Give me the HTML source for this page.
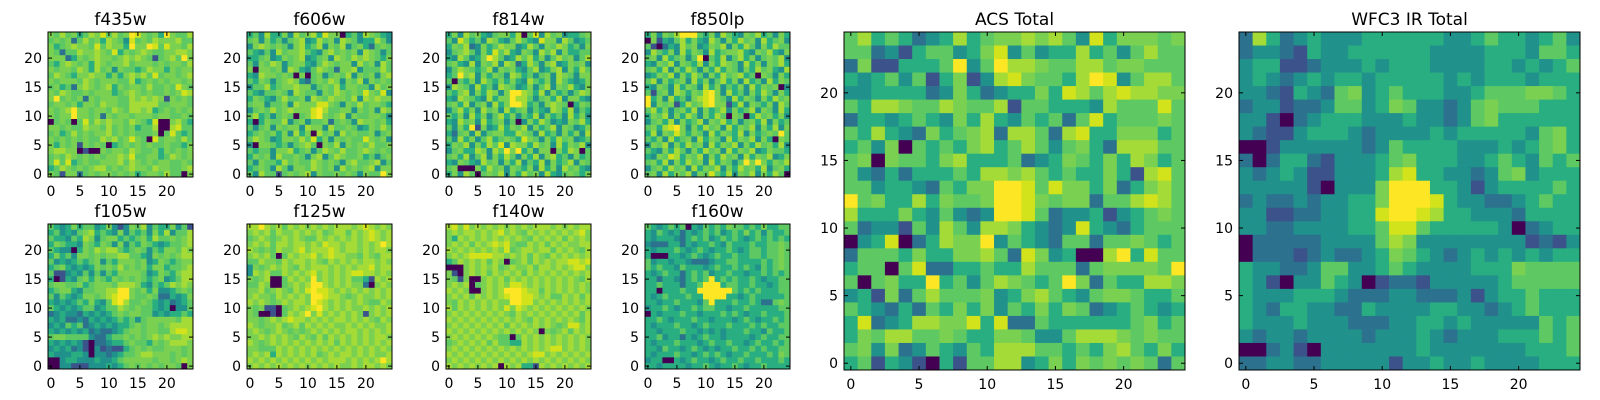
<!DOCTYPE html>
<html><head><meta charset="utf-8">
<style>
html,body{margin:0;padding:0;background:#fff;}
svg{display:block;font-family:"DejaVu Sans","Liberation Sans",sans-serif;}
</style></head>
<body>
<svg id="fig" width="1600" height="400" viewBox="0 0 1600 400" xmlns="http://www.w3.org/2000/svg"></svg>
<script>
// Viridis levels 0..9 (data values are level indices)
const palette = ["#440154","#3b528b","#2c728e","#21918c","#28ae80","#5ec962","#7ad151","#a5db36","#d2e21b","#fde725"];
const tickValues = [0,5,10,15,20];
const tickLabels = ["0","5","10","15","20"];
const panelTitles = ["f435w","f606w","f814w","f850lp","f105w","f125w","f140w","f160w","ACS Total","WFC3 IR Total"];
// rows listed from y=24 (top) down to y=0
const f435w = [
"6575645768575698656496557","5656257564765385657666755","6456766585766496698586657","6525576676584656765566776","6662465676656767651567596",
"5467656476566756665656657","6566576475636554576646566","5765466766464676758566567","6566657656665574565656656","5645267656746566575565865",
"6576556566645676565565687","6956562656665576767616565","5665646657665577777556665","6567966566576577674565656","6566966562656656665665565",
"0565058576766576548006754","6656557665756564557007855","5645756566756565556058545","6565656557675686508566575","6465616565045656565565546",
"6776601006566576556465656","5657656565667685566457656","5858456556667576565665565","4576565677565676657665567","6516625656656564566575506"];
const f606w = [
"4537446375674866045376543","5636453567347563765344753","3676565367457365735642565","5435375667543675656376535","4456346567345637657676546",
"5365763566435765663756375","6066563764357652667355575","4376656506056356573656367","5465356763256576365736565","3557456676635657466553756",
"5435565376553657656586583","4654357556376576657376766","5663556376668865365756654","3565756766689755663656376","5745356505689656736556653",
"4046557356355625653766564","5356365663766375565346575","4565646374607563756556356","5765346657584636565586563","3066545356750657365657556",
"5455366745635765755676565","4656375565367357655645356","5365547565576565367556735","4565375366576563756567366","5375515656736556565365596"];
const f814w = [
"4637564356647058375634456","5386453764357543866375345","4657236457663475365764536","3567536485743653757364455","4375346975347574635756357",
"5643736573762475367346563","3576545736564357346736475","4596736465376453563765366","5054637546464375463754346","3765374537653463573657436",
"5467364763699764736453576","4376543746697753564736643","5647356374699745367650465","3574637563745635437647354","5463746357463547364537463",
"4375637456350364753436574","5364916347465736457365346","4256373566447653745364637","5374635745654865364756345","4657364758376647563746573",
"3564476375969463660647605","5647357364753647367453645","4365437563647354736457365","5600064756365463746375643","4637505657364756374356546"];
const f850lp = [
"4636579995463754365745364","0614357464375364756374563","5102437563465736475364755","3754637465374566743657436","5637456359054735746356573",
"4365736547364765374636574","5647364753647465364756437","3465736475364756745065364","5736456374635746374537465","4365374653746354637465603",
"5156376465896374536475364","9463745367896537465364756","9365614756896614736546375","5746356473645736457365374","4657364753647506504756463",
"3564736457365746356473645","5647896364756374657364736","4736586465374654736456595","5463745637465374657364065","3657364756374657364756473",
"5436475364756374657346554","4365874657364756374657346","5647364756374653596964657","3564756374657364756473564","5637465736585473657364750"];
const f105w = [
"5434645534631365735446351","4534356745436354536473557","5443547635664545647556567","4654436546536354654345567","5433046576775456535466576",
"4645366565667755436565677","5343454563546665634654566","4564343465657565646645567","5113435353546666534654677","4014356465465656545634577",
"5665564566657776435457676","4566435566779965646334565","5354346656789965565224346","4343454643589755654342345","5434345534557656554340335",
"2343324343456566553434454","4342232434345453566666577","3435452343434456566567777","4343434232234566566557887","5665555322455656567676677",
"4343431022344565546567776","3434231031211456565566656","4333443033234556776665656","0034433343345666665665676","0033111333434565656566506"];
const f125w = [
"7797675767676767776787676","6767576676767567757678767","5676567676557676767678767","6767577677676877677676797","7656576678677787677676776",
"6767505767786787766576577","5576657677676576767677676","3656767657677767676778677","3767557676786767678877676","6567005767696767675541767",
"5576005676799767676620676","6675676576898876767676767","6766576767699877656766767","7676567677698767676765576","6561105676789767676676767",
"6500105767968676767616767","6656767877676767767676576","7656675675767676676767667","6765676565676767677676767","6676767657657576767676776",
"7656767676767675767676767","6655576767676767676767676","6767476767675676776767667","7676767676767677767676797","6767676767676767667677676"];
const f140w = [
"7868676767676767776767677","6767767678676576767676786","6476767676767657676757676","6767576787865576757676677","7676767676856776775767657",
"6767888877676757657676767","4576767576056757676778878","0006767675676675776767886","6106767576767576767676767","6516006767576767676767657",
"6767056767688767676767676","7676006767999877576767676","6767576767899887675576757","6576767676699886767676767","7576767676868767676767676",
"6767676767657676767676757","7676767676767657676767657","6767676767576767676568867","7676767676767676065675767","6767676765505767676767676",
"5676767575544767676767676","6767676767676767678867676","7676767676767678867676767","6767676767676767676767676","7676767670767441767676767"];
const f160w = [
"5434545043545465545464455","4354342434545345464535445","4344432454534545434545454","3222442434454354445445565","4344454345434454345545565",
"4000443454345445445545565","5344344322234455444454565","5454435444345445454354565","4345442454534454434454545","4424432454594545445434455",
"4454442445999455445443455","4404445449999995454544455","4345444544999944345444445","4434454443594445445422565","3445434454554434454444455",
"0434445443444545434454445","4454344454434443454344545","4344454434544454445454455","4434445443434344454435445","4453442434544344443454455",
"4344454443454454434544545","4435443454343445445454455","4344454434545434454445465","3440043454434544544544454","4434444344543445434454444"];
const acsTotal = [
"5745423474566767538466656","5523145534683534474535755","2611444593597765577566555","4345351461378655479835775","3344442364234464875787766",
"5477655765571554443755585","2443454364743545258455565","5474326456727752784466645","4536054546745753564277755","5606554674445234654647645",
"5324244454776754544641785","5534432546699858664624675","9564474655699865662557875","7444643532399852334134565","5233153753776432384324555",
"0348024766935432552556545","2555464466752863400794855","4550582244544755525666659","5056449453576545962544776","3416257555634675435665445",
"5432425464635464652345434","4823477668482254444445645","4657755654466533577765655","5636235435477755454675464","4514310415577346465656525"];
const wfc3Total = [
"2742343334444443345443453","2332143344444433334443554","3441123334344433334434345","3432343443444443434443444","3321432563454443345556654",
"2331223553465332356555444","3310234443334332356444444","3211344432333343444443564","0013333332354444333434564","2024421333456444334543545",
"3234311333478443323563444","3333310333699944313444454","2322323344699984332234544","3311223344899874433324444","3322333344588544444302344",
"0222223333576333333331213","0222123223465432343434344","4332235533454333344465555","4310335430122133333455555","4333444322233222313445444",
"4324433224333344332345444","4333433322233443433333545","3233233332333432333444545","0023103333333433333334445","2233223333313343343333444"];

const panels = [
 {x:48,y:32,w:145,h:145,data:f435w,t:0,fs:14},
 {x:247,y:32,w:145,h:145,data:f606w,t:1,fs:14},
 {x:446,y:32,w:145,h:145,data:f814w,t:2,fs:14},
 {x:645,y:32,w:145,h:145,data:f850lp,t:3,fs:14},
 {x:48,y:224,w:145,h:145,data:f105w,t:4,fs:14},
 {x:247,y:224,w:145,h:145,data:f125w,t:5,fs:14},
 {x:446,y:224,w:145,h:145,data:f140w,t:6,fs:14},
 {x:645,y:224,w:145,h:145,data:f160w,t:7,fs:14},
 {x:844,y:32,w:341,h:338,data:acsTotal,t:8,fs:14},
 {x:1239,y:32,w:341,h:338,data:wfc3Total,t:9,fs:14}
];
const NS="http://www.w3.org/2000/svg";
const svg=document.getElementById('fig');
function mk(tag,attrs,parent){const e=document.createElementNS(NS,tag);for(const k in attrs)e.setAttribute(k,attrs[k]);parent.appendChild(e);return e;}
panels.forEach((p,pi)=>{
  const n=p.data.length, m=p.data[0].length;
  const xs=v=>p.x+(v+0.5)/m*p.w;
  const ys=v=>p.y+(n-0.5-v)/n*p.h;
  const g=mk('g',{},svg);
  
  
  const cw=p.w/m, ch=p.h/n;
  for(let r=0;r<n;r++){
    const yv=n-1-r;
    for(let c=0;c<m;c++){
      const val=+p.data[r][c];
      const rc=mk('rect',{x:(xs(c)-cw/2).toFixed(2),y:(ys(yv)-ch/2).toFixed(2),width:(cw+0.4).toFixed(2),height:(ch+0.4).toFixed(2),fill:palette[val]},g);
      
      
    }
  }
  const fr=mk('rect',{x:p.x,y:p.y,width:p.w,height:p.h,fill:'none',stroke:'#000','stroke-width':1},g);
  
  
  tickValues.forEach((tv,i)=>{
    const X=xs(tv), Y=ys(tv);
    mk('line',{x1:X,y1:p.y+p.h,x2:X,y2:p.y+p.h-4,stroke:'#000'},g);
    mk('line',{x1:X,y1:p.y,x2:X,y2:p.y+4,stroke:'#000'},g);
    mk('line',{x1:p.x,y1:Y,x2:p.x+4,y2:Y,stroke:'#000'},g);
    mk('line',{x1:p.x+p.w,y1:Y,x2:p.x+p.w-4,y2:Y,stroke:'#000'},g);
    const tx=mk('text',{x:X,y:p.y+p.h+19,'text-anchor':'middle','font-size':p.fs,fill:'#000'},g);
    tx.textContent=tickLabels[i];
    
    
    const ty=mk('text',{x:p.x-6,y:Y+5,'text-anchor':'end','font-size':p.fs,fill:'#000'},g);
    ty.textContent=tickLabels[i];
    
    
  });
  const tt=mk('text',{x:p.x+p.w/2,y:p.y-7,'text-anchor':'middle','font-size':17,fill:'#000'},g);
  tt.textContent=panelTitles[p.t];
  
  
});
</script>
</body></html>
